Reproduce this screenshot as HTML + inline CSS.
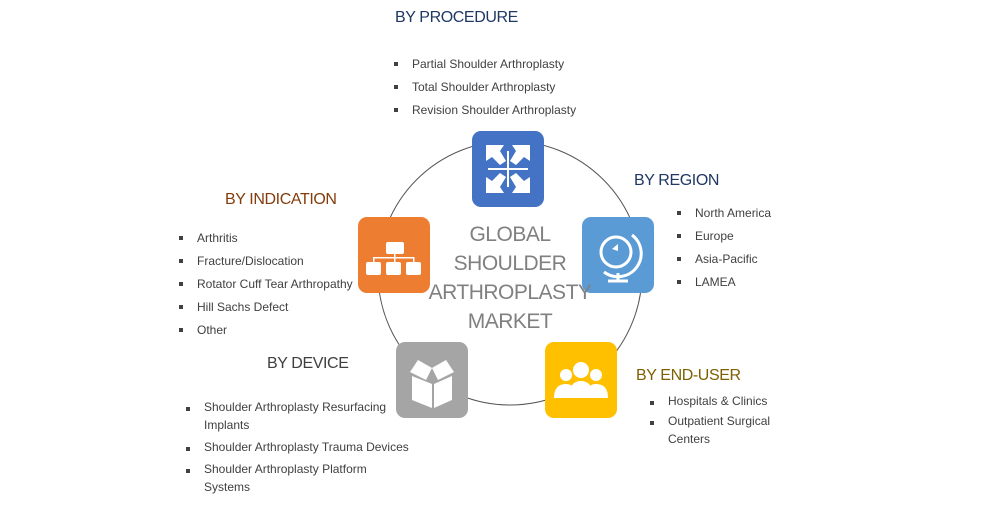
<!DOCTYPE html>
<html><head><meta charset="utf-8"><style>
body{margin:0;width:988px;height:517px;background:#fff;position:relative;overflow:hidden;font-family:"Liberation Sans",sans-serif}
.t{position:absolute;font-size:16px;letter-spacing:-0.4px;white-space:nowrap}
.l{position:absolute;font-size:12px;color:#404040;line-height:23px;white-space:nowrap}
.l div{position:relative;padding-left:18px}
.l div:before{content:"";position:absolute;left:0;top:9px;width:4px;height:4px;background:#404040}
.b{position:absolute;width:72px;height:76px;border-radius:9px}
.c{position:absolute;left:420px;top:220px;width:180px;text-align:center;color:#808080;font-size:21px;line-height:29px;letter-spacing:-0.5px}
</style></head><body>
<svg width="988" height="517" style="position:absolute;left:0;top:0">
<circle cx="510" cy="273" r="132" fill="none" stroke="#555" stroke-width="1"/>
</svg>
<div class="t" style="left:395px;top:9px;color:#1F3864">BY PROCEDURE</div>
<div class="l" style="left:394px;top:53px"><div>Partial Shoulder Arthroplasty</div><div>Total Shoulder Arthroplasty</div><div>Revision Shoulder Arthroplasty</div></div>
<div class="t" style="left:634px;top:172px;color:#1F3864">BY REGION</div>
<div class="l" style="left:677px;top:202px"><div>North America</div><div>Europe</div><div>Asia-Pacific</div><div>LAMEA</div></div>
<div class="t" style="left:225px;top:191px;color:#843C0C">BY INDICATION</div>
<div class="l" style="left:179px;top:227px"><div>Arthritis</div><div>Fracture/Dislocation</div><div>Rotator Cuff Tear Arthropathy</div><div>Hill Sachs Defect</div><div>Other</div></div>
<div class="t" style="left:267px;top:355px;color:#404040">BY DEVICE</div>
<div class="l" style="left:186px;top:398px;line-height:18px"><div style="margin-bottom:4px">Shoulder Arthroplasty Resurfacing<br>Implants</div><div style="margin-bottom:4px">Shoulder Arthroplasty Trauma Devices</div><div>Shoulder Arthroplasty Platform<br>Systems</div></div>
<div class="t" style="left:636px;top:367px;color:#7F6000">BY END-USER</div>
<div class="l" style="left:650px;top:392px;line-height:18px"><div style="margin-bottom:2px">Hospitals &amp; Clinics</div><div>Outpatient Surgical<br>Centers</div></div>

<div class="b" style="left:472px;top:131px;background:#4472C4">
<svg width="72" height="76"><g fill="#fff"><polygon points="14,14 32,14 28,20 34,30 28,34 20,26 14,30"/><polygon points="58,14 40,14 44,20 38,30 44,34 52,26 58,30"/><polygon points="14,62 32,62 28,56 34,46 28,42 20,50 14,46"/><polygon points="58,62 40,62 44,56 38,46 44,42 52,50 58,46"/><rect x="16" y="37" width="40" height="2"/><rect x="35" y="20" width="2" height="36"/></g></svg></div>
<div class="b" style="left:358px;top:217px;background:#ED7D31">
<svg width="72" height="76"><g fill="#fff"><rect x="28" y="25" width="18" height="12" rx="2"/><rect x="8" y="45" width="15" height="13" rx="2"/><rect x="28" y="45" width="15" height="13" rx="2"/><rect x="48" y="45" width="15" height="13" rx="2"/><rect x="36" y="37" width="1.5" height="8"/><rect x="15" y="40" width="41" height="1.5"/><rect x="15" y="40" width="1.5" height="5"/><rect x="55" y="40" width="1.5" height="5"/></g></svg></div>
<div class="b" style="left:582px;top:217px;background:#5B9BD5">
<svg width="72" height="76"><g fill="none" stroke="#fff" stroke-width="3"><circle cx="34" cy="35" r="15"/><path d="M50 18 A22 22 0 0 1 22 55"/><path d="M36 56 V63 M26 64 H46"/></g><polygon points="30,32 36,27 36,34" fill="#fff"/></svg></div>
<div class="b" style="left:396px;top:342px;background:#A5A5A5">
<svg width="72" height="76"><g fill="#fff"><polygon points="16,34 36,42 36,66 16,58"/><polygon points="56,34 38,42 38,66 56,58"/><polygon points="14,30 22,18 36,26 30,38"/><polygon points="58,30 50,18 36,26 42,38"/></g></svg></div>
<div class="b" style="left:545px;top:342px;background:#FFC000">
<svg width="72" height="76"><g fill="#fff"><circle cx="21" cy="33" r="6"/><circle cx="51" cy="33" r="6"/><circle cx="36" cy="28" r="8"/><path d="M9 56 Q9 42 21 42 Q27 42 28 46 L28 56Z"/><path d="M63 56 Q63 42 51 42 Q45 42 44 46 L44 56Z"/><path d="M24 56 Q24 39 36 39 Q48 39 48 56Z"/></g></svg></div>

<div class="c">GLOBAL<br>SHOULDER<br>ARTHROPLASTY<br>MARKET</div>
</body></html>
